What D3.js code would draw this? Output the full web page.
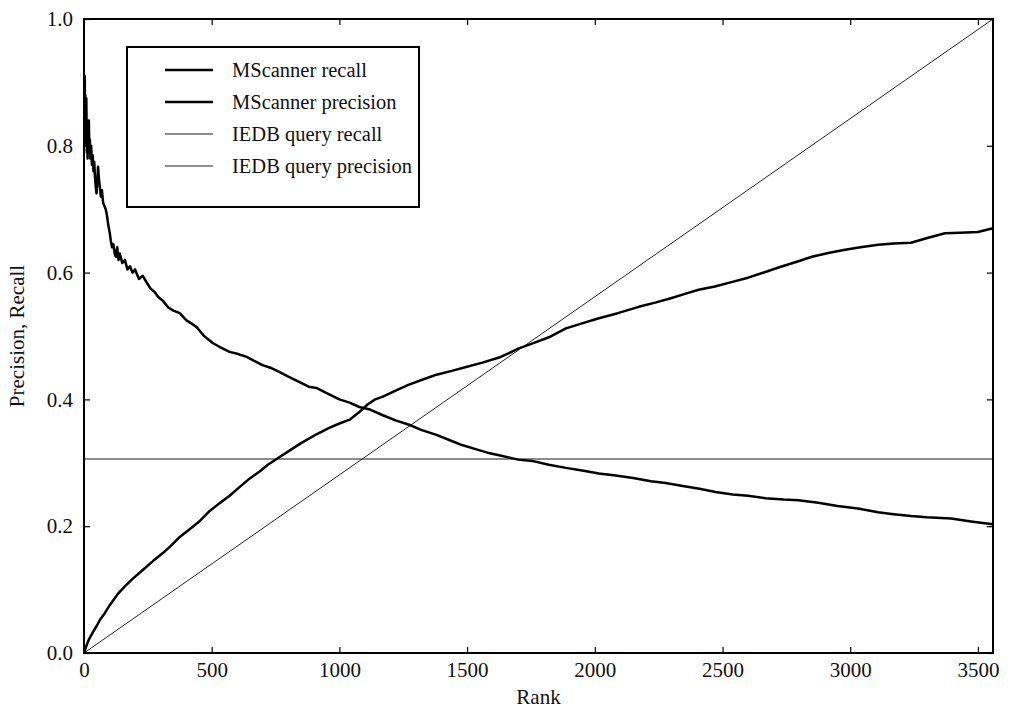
<!DOCTYPE html>
<html>
<head>
<meta charset="utf-8">
<script src="https://cdn.jsdelivr.net/npm/d3@7"></script>
<style>
  html, body { margin: 0; padding: 0; background: #fff; }
  svg { display: block; }
  text { font-family: "Liberation Serif", "DejaVu Serif", serif; fill: #111; }
</style>
</head>
<body>
<svg id="chart" width="1009" height="715"></svg>
<script>
// ---- data ----
const xTicks = [0, 500, 1000, 1500, 2000, 2500, 3000, 3500];
const yTicks = [0.0, 0.2, 0.4, 0.6, 0.8, 1.0];
const maxRank = 3559;

const precisionRanks = [1,2,3,4,5,6,7,8,9,10,11,12,14,15,17,19,21,23,25,28,31,34,37,40,43,46,49,52,55,58,62,66,70,75,80,85,90,95,100,105,110,115,120,125,130,135,140,150,160,170,180,190,200,215,230,246,260,275,290,310,330,350,375,400,420,441,470,504,530,570,600,637,670,699,730,766,800,840,880,910,950,1000,1040,1078,1120,1170,1220,1273,1320,1380,1430,1480,1530,1580,1625,1700,1754,1820,1887,1950,2016,2082,2150,2220,2277,2350,2410,2473,2540,2600,2668,2740,2797,2875,2950,3030,3109,3170,3238,3300,3395,3480,3559];
const precisionValues = [0.90,0.86,0.91,0.83,0.88,0.81,0.86,0.80,0.875,0.84,0.79,0.83,0.78,0.82,0.80,0.84,0.79,0.81,0.78,0.80,0.77,0.785,0.76,0.775,0.75,0.735,0.725,0.745,0.767,0.75,0.735,0.72,0.73,0.71,0.705,0.70,0.69,0.675,0.665,0.65,0.64,0.645,0.63,0.625,0.64,0.62,0.63,0.615,0.62,0.605,0.61,0.60,0.605,0.59,0.595,0.584,0.575,0.57,0.562,0.555,0.545,0.54,0.536,0.525,0.52,0.514,0.50,0.489,0.483,0.475,0.472,0.467,0.46,0.454,0.45,0.443,0.436,0.428,0.42,0.418,0.41,0.40,0.395,0.388,0.384,0.375,0.367,0.36,0.352,0.344,0.336,0.328,0.322,0.316,0.312,0.305,0.303,0.297,0.292,0.288,0.283,0.280,0.276,0.271,0.268,0.263,0.259,0.254,0.250,0.248,0.244,0.242,0.241,0.237,0.232,0.228,0.222,0.219,0.216,0.214,0.212,0.207,0.203];

const recallRanks = [0,10,20,35,50,62,80,100,130,160,190,230,270,310,340,375,410,450,492,530,570,610,648,690,720,754,800,850,910,960,1000,1040,1078,1110,1140,1168,1220,1270,1324,1380,1440,1496,1560,1625,1664,1700,1754,1820,1887,1950,2016,2090,2172,2240,2301,2350,2406,2470,2535,2600,2668,2719,2797,2850,2914,2980,3040,3109,3170,3238,3305,3371,3430,3500,3559];
const recallValues = [0,0.012,0.022,0.033,0.043,0.052,0.062,0.075,0.092,0.105,0.117,0.131,0.145,0.158,0.169,0.183,0.194,0.207,0.224,0.236,0.248,0.262,0.275,0.287,0.297,0.306,0.318,0.331,0.345,0.355,0.362,0.368,0.380,0.392,0.400,0.404,0.414,0.423,0.431,0.439,0.445,0.451,0.458,0.466,0.473,0.480,0.488,0.498,0.512,0.520,0.528,0.536,0.546,0.553,0.560,0.566,0.573,0.578,0.585,0.592,0.601,0.608,0.618,0.625,0.631,0.636,0.640,0.644,0.646,0.647,0.655,0.662,0.663,0.664,0.670];

const iedbRecallValue = 0.306;                 // constant (horizontal line)
const iedbPrecisionRanks = [0, 3559];          // straight line
const iedbPrecisionValues = [0.0, 1.0];

const legendLabels = ["MScanner recall", "MScanner precision", "IEDB query recall", "IEDB query precision"];

// ---- layout ----
const W = 1009, H = 715;
const margin = {left: 84, right: 16, top: 19, bottom: 62};
const svg = d3.select("#chart");

const x = d3.scaleLinear().domain([0, maxRank]).range([margin.left, W - margin.right]);
const y = d3.scaleLinear().domain([0, 1]).range([H - margin.bottom, margin.top]);

const styles = [
  {stroke: "#000", width: 2.5},
  {stroke: "#000", width: 2.5},
  {stroke: "#666", width: 1.4},
  {stroke: "#222", width: 1.0}
];

const line = d3.line().x(d => x(d[0])).y(d => y(d[1]));

const plot = svg.append("g");

// IEDB query recall (horizontal)
plot.append("path")
  .datum([[0, iedbRecallValue], [maxRank, iedbRecallValue]])
  .attr("d", line).attr("fill", "none")
  .attr("stroke", styles[2].stroke).attr("stroke-width", styles[2].width);

// IEDB query precision (diagonal)
plot.append("path")
  .datum(iedbPrecisionRanks.map((r, i) => [r, iedbPrecisionValues[i]]))
  .attr("d", line).attr("fill", "none")
  .attr("stroke", styles[3].stroke).attr("stroke-width", styles[3].width);

// MScanner recall
plot.append("path")
  .datum(recallRanks.map((r, i) => [r, recallValues[i]]))
  .attr("d", line).attr("fill", "none")
  .attr("stroke", styles[0].stroke).attr("stroke-width", styles[0].width)
  .attr("stroke-linejoin", "round");

// MScanner precision
plot.append("path")
  .datum(precisionRanks.map((r, i) => [r, precisionValues[i]]))
  .attr("d", line).attr("fill", "none")
  .attr("stroke", styles[1].stroke).attr("stroke-width", styles[1].width)
  .attr("stroke-linejoin", "round");

// ---- axes ----
const fmtY = d3.format(".1f");
const fmtX = d3.format("d");
const axB = svg.append("g").attr("transform", `translate(0,${H - margin.bottom})`)
  .call(d3.axisBottom(x).tickValues(xTicks).tickSizeInner(-6).tickSizeOuter(0).tickPadding(9).tickFormat(fmtX));
const axT = svg.append("g").attr("transform", `translate(0,${margin.top})`)
  .call(d3.axisTop(x).tickValues(xTicks).tickSizeInner(-6).tickSizeOuter(0).tickFormat(""));
const axL = svg.append("g").attr("transform", `translate(${margin.left},0)`)
  .call(d3.axisLeft(y).tickValues(yTicks).tickSizeInner(-6).tickSizeOuter(0).tickPadding(11).tickFormat(fmtY));
const axR = svg.append("g").attr("transform", `translate(${W - margin.right},0)`)
  .call(d3.axisRight(y).tickValues(yTicks).tickSizeInner(-6).tickSizeOuter(0).tickFormat(""));

[axB, axT, axL, axR].forEach(a => {
  a.select(".domain").remove();
  a.selectAll(".tick line").attr("stroke", "#000").attr("stroke-width", 1.2);
  a.selectAll("text").attr("font-family", "Liberation Serif, DejaVu Serif, serif").attr("font-size", 21).attr("fill", "#111");
});

// frame
svg.append("rect")
  .attr("x", margin.left).attr("y", margin.top)
  .attr("width", W - margin.left - margin.right)
  .attr("height", H - margin.top - margin.bottom)
  .attr("fill", "none").attr("stroke", "#000").attr("stroke-width", 2);

// axis titles
svg.append("text").attr("x", (margin.left + W - margin.right) / 2).attr("y", 704)
  .attr("text-anchor", "middle").attr("font-size", 21).text("Rank");
svg.append("text").attr("transform", `translate(24,${(margin.top + H - margin.bottom) / 2}) rotate(-90)`)
  .attr("text-anchor", "middle").attr("font-size", 21).text("Precision, Recall");

// ---- legend ----
const lg = svg.append("g");
lg.append("rect").attr("x", 127).attr("y", 47).attr("width", 292).attr("height", 160)
  .attr("fill", "#fff").attr("stroke", "#000").attr("stroke-width", 2);
const rowY = d3.scalePoint().domain(legendLabels).range([70, 166]);
legendLabels.forEach((lab, i) => {
  const yy = rowY(lab);
  lg.append("line").attr("x1", 165).attr("x2", 213).attr("y1", yy).attr("y2", yy)
    .attr("stroke", styles[i].stroke).attr("stroke-width", styles[i].width);
  lg.append("text").attr("x", 232).attr("y", yy).attr("dy", "0.35em")
    .attr("font-size", 20.5).text(lab);
});
</script>
</body>
</html>
